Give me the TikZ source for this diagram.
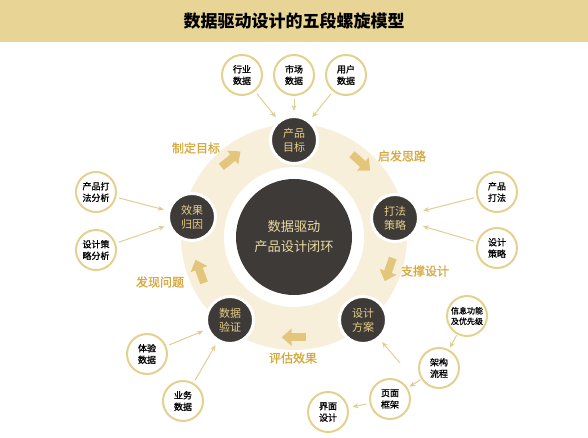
\documentclass[tikz,border=0pt]{standalone}
\usepackage{fontspec}
\setmainfont{Noto Sans CJK SC}
\newfontfamily\medfont{Noto Sans CJK SC}[FakeBold=1.2]
\usetikzlibrary{calc,arrows.meta}
\definecolor{bandgold}{HTML}{E8D596}
\definecolor{ringbeige}{HTML}{F7EFDA}
\definecolor{stagedark}{HTML}{3E3A37}
\definecolor{stagetext}{HTML}{E6CD86}
\definecolor{coretext}{HTML}{EAD9A2}
\definecolor{ringarrow}{HTML}{E3C67C}
\definecolor{labelgold}{HTML}{D7A83E}
\definecolor{satborder}{HTML}{E4D18F}
\definecolor{feedline}{HTML}{E0CD92}
\definecolor{feedpink}{HTML}{EBBE9E}

\begin{document}
\begin{tikzpicture}[x=1pt,y=-1pt,
		stage/.style={circle,fill=stagedark,draw=white,line width=3pt,minimum size=47pt,inner sep=0pt,align=center,text=stagetext,font=\fontsize{11}{14}\selectfont},
		source/.style={circle,fill=white,draw=satborder,line width=2pt,minimum size=40pt,inner sep=0pt,align=center,font=\medfont\fontsize{9}{11.5}\selectfont},
		feed/.style={draw=feedline,line width=1pt,-{Stealth[length=6pt,width=5pt]},shorten <=3pt,shorten >=4pt},
		ringflow/.style={draw=ringarrow,line width=8pt,-{Triangle[width=17pt,length=10pt]}},
		steplabel/.style={text=labelgold,font=\medfont\fontsize{12}{14}\selectfont}]
		\pgfmathsetmacro{\ringouter}{113}
		\pgfmathsetmacro{\ringinner}{70}
		\pgfmathsetmacro{\ringmid}{101}
		\pgfmathsetmacro{\halfstep}{7}
		
		\useasboundingbox (0,0) rectangle (588,438);
		\fill[bandgold] (0,0) rectangle (588,42);
		\node[font=\fontsize{17}{20}\bfseries] (title) at (294,21) {数据驱动设计的五段螺旋模型};
		
		% ring and core
		\coordinate (center) at (294,237);
		\fill[ringbeige] (center) circle (\ringouter);
		\fill[white] (center) circle (\ringinner);
		\node[circle,fill=stagedark,minimum size=116pt,inner sep=0pt,align=center,text=coretext,font=\fontsize{13.2}{20}\selectfont] (core) at (center) {数据驱动\\产品设计闭环};
		\foreach \a in {-129,-48,19,90,160}
		{
			\draw[ringflow] ($(center)+(\a-\halfstep:\ringmid)$) -- ($(center)+(\a+\halfstep:\ringmid)$);
		}
		
		% stages
		\node[stage] (goal) at (294,140) {产品\\目标};
		\node[stage] (tactic) at (395,218) {打法\\策略};
		\node[stage] (plan) at (363,320) {设计\\方案};
		\node[stage] (verify) at (230,320) {数据\\验证};
		\node[stage] (attrib) at (192,217) {效果\\归因};
		
		\node[steplabel] (setgoal) at (196,148) {制定目标};
		\node[steplabel] (inspire) at (402,156) {启发思路};
		\node[steplabel] (support) at (425,271) {支撑设计};
		\node[steplabel] (evaluate) at (293,358) {评估效果};
		\node[steplabel] (discover) at (160,282) {发现问题};
		
		% inputs
		\node[source] (industry) at (242,75) {行业\\数据};
		\node[source] (market) at (294,75) {市场\\数据};
		\node[source] (user) at (346,75) {用户\\数据};
		\node[source] (tacticana) at (96,192) {产品打\\法分析};
		\node[source] (strategyana) at (96,250) {设计策\\略分析};
		\node[source] (prodtactic) at (497,192) {产品\\打法};
		\node[source] (designstrat) at (497,248) {设计\\策略};
		\node[source] (experience) at (147,354) {体验\\数据};
		\node[source] (business) at (183,401) {业务\\数据};
		\node[source,font=\medfont\fontsize{8}{10.5}\selectfont] (infoprio) at (467,316) {信息功能\\及优先级};
		\node[source] (archflow) at (439,368) {架构\\流程};
		\node[source] (pageframe) at (390,399) {页面\\框架};
		\node[source] (uidesign) at (328,412) {界面\\设计};
		\coordinate (chainup) at (400,363);
		
		\foreach \src/\dst in {industry/goal,market/goal,user/goal,tacticana/attrib,strategyana/attrib,prodtactic/tactic,designstrat/tactic,experience/verify,business/verify,pageframe/uidesign}
			\draw[feed] (\src) -- (\dst);
		\draw[feed,shorten <=1pt,shorten >=2pt] (infoprio) -- (archflow);
		\draw[feed,draw=feedpink,shorten <=1pt,shorten >=2pt] (archflow) -- (pageframe);
		\draw[feed,shorten <=0pt] (chainup) -- (plan);
	\end{tikzpicture}
\end{document}
